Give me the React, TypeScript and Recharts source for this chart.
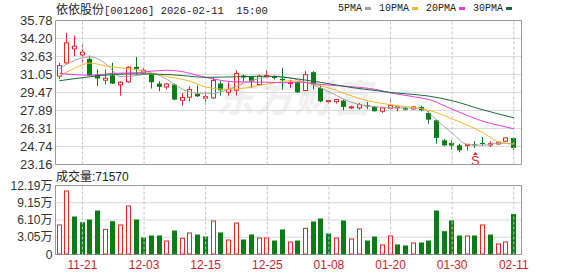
import React from "react";
import {
  ComposedChart,
  Bar,
  Line,
  Scatter,
  XAxis,
  YAxis,
  CartesianGrid,
  ReferenceLine,
  ReferenceArea,
} from "recharts";

// 交易日（共60根K线）
const dates = [
  "11-18", "11-19", "11-20", "11-21", "11-24", "11-25", "11-26", "11-27", "11-28",
  "12-01", "12-02", "12-03", "12-04", "12-05", "12-08", "12-09", "12-10", "12-11", "12-12",
  "12-15", "12-16", "12-17", "12-18", "12-19", "12-22", "12-23", "12-24", "12-25", "12-26",
  "12-29", "12-30", "12-31", "01-05", "01-06", "01-07", "01-08", "01-09",
  "01-12", "01-13", "01-14", "01-15", "01-16", "01-19", "01-20", "01-21", "01-22", "01-23",
  "01-26", "01-27", "01-28", "01-29", "01-30", "02-02", "02-03", "02-04", "02-05", "02-06",
  "02-09", "02-10", "02-11",
];
const tickDates = ["11-21", "12-03", "12-15", "12-25", "01-08", "01-20", "01-30", "02-11"];

const openP = [
  30.9, 32.07, 33.29, 32.77, 32.42, 31.04, 30.55, 30.98, 30.14, 30.4, 31.72, 31.19, 31.04, 30.25, 29.96,
  30.17, 28.79, 29.06, 29.35, 28.97, 29.0, 30.25, 29.49, 29.67, 30.96, 30.84, 30.17, 30.84, 30.9, 30.66,
  30.25, 30.37, 29.64, 31.25, 29.87, 28.68, 28.67, 28.76, 28.12, 28.12, 28.35, 28.21, 27.83, 28.09, 28.12,
  28.12, 28.03, 28.21, 27.68, 27.04, 25.28, 25.05, 24.84, 24.82, 24.93, 25.05, 24.87, 24.96, 25.2, 25.49,
];
const highP = [
  32.07, 34.7, 34.46, 33.67, 32.71, 31.48, 31.48, 32.07, 30.46, 31.77, 32.59, 31.63, 31.19, 30.46, 30.31,
  30.25, 29.43, 30.02, 30.08, 29.58, 30.75, 30.46, 30.37, 31.42, 31.04, 30.9, 31.04, 31.42, 30.96, 31.63,
  30.6, 30.46, 31.34, 31.34, 30.08, 28.78, 28.91, 28.85, 28.32, 28.56, 28.62, 28.32, 28.18, 28.85, 28.21,
  28.21, 28.27, 28.32, 27.83, 27.09, 25.4, 25.28, 24.99, 24.93, 25.2, 25.58, 25.2, 25.17, 25.52, 25.55,
];
const lowP = [
  30.66, 31.92, 32.65, 31.92, 30.9, 30.02, 30.17, 30.22, 29.2, 30.31, 31.04, 31.04, 29.82, 29.58, 29.73,
  28.79, 28.32, 28.7, 29.08, 28.41, 28.91, 29.2, 29.2, 29.2, 30.46, 29.87, 30.08, 30.75, 30.6, 29.73,
  29.87, 29.43, 29.58, 29.73, 28.62, 28.5, 28.5, 27.91, 28.03, 27.97, 28.03, 27.8, 27.68, 27.97, 27.83,
  27.91, 27.97, 27.83, 26.74, 24.99, 24.76, 24.46, 24.23, 24.38, 24.61, 24.82, 24.7, 24.9, 25.11, 24.41,
];
const closeP = [
  31.83, 33.82, 33.53, 33.0, 30.96, 30.69, 30.72, 30.25, 30.37, 31.69, 31.54, 31.42, 30.37, 29.96, 30.22,
  28.85, 29.03, 29.73, 29.14, 29.1, 30.52, 29.67, 29.73, 31.13, 30.78, 30.43, 30.9, 30.96, 30.75, 30.55,
  30.37, 29.49, 31.04, 30.17, 28.7, 28.76, 28.85, 28.21, 28.21, 28.41, 28.24, 27.83, 28.12, 28.32, 28.21,
  27.97, 28.21, 27.91, 27.09, 25.49, 24.84, 24.82, 24.41, 24.93, 24.84, 24.96, 24.99, 25.11, 25.49, 24.61,
];

// 成交量（万手），1 = 红（涨） 0 = 绿（跌）
const volume = [
  5.3, 11.31, 6.71, 5.71, 6.18, 7.77, 4.53, 5.89, 5.3, 8.66, 6.18, 3.0, 3.36, 3.36, 2.47,
  4.24, 2.94, 3.89, 3.53, 3.18, 6.01, 3.89, 2.65, 5.65, 2.65, 3.53, 3.0, 3.0, 2.47, 4.42,
  2.3, 2.47, 4.71, 5.83, 6.36, 3.71, 3.0, 6.01, 2.83, 4.59, 2.47, 3.18, 1.77, 3.36, 1.77,
  1.59, 2.12, 2.12, 2.47, 7.77, 4.12, 6.01, 3.36, 3.36, 3.36, 5.3, 3.53, 1.94, 2.3, 7.157,
];
const volUp = [
  1, 1, 0, 0, 0, 0, 1, 0, 1, 1, 0, 0, 0, 0, 1, 0, 1, 1, 0, 0, 1, 0, 1, 1, 0, 0, 1, 1, 0, 0,
  1, 0, 1, 0, 0, 0, 1, 0, 1, 1, 0, 0, 1, 1, 0, 0, 1, 0, 0, 0, 0, 0, 0, 1, 0, 1, 0, 1, 1, 0,
];

// 均线（从图上读取的点：[序号, 价格]）
const ma5Pts = [
  [0, 31.55], [2, 32.3], [4, 32.6], [6, 32.0], [8, 30.85], [10, 30.95], [12, 31.15], [14, 30.6],
  [16, 29.75], [18, 29.4], [20, 29.4], [22, 29.75], [24, 30.3], [26, 30.7], [28, 30.9], [30, 30.75],
  [32, 30.35], [34, 29.85], [36, 29.2], [38, 28.6], [40, 28.3], [43, 28.15], [47, 28.08], [49, 27.05],
  [51, 25.9], [53, 24.91], [55, 24.85], [57, 25.05], [59, 24.95],
];
const ma10Pts = [
  [0, 30.9], [2, 31.6], [4, 32.05], [6, 31.8], [9, 31.55], [11, 31.35], [13, 31.0], [15, 30.75],
  [17, 30.45], [19, 29.95], [22, 29.75], [24, 29.85], [26, 30.1], [28, 30.32], [30, 30.5], [32, 30.35],
  [34, 30.05], [36, 29.65], [38, 29.15], [40, 28.75], [42, 28.5], [44, 28.3], [47, 28.05], [49, 27.7],
  [51, 27.15], [53, 26.6], [55, 25.95], [57, 25.15], [59, 24.95],
];
const ma20Pts = [
  [0, 31.15], [4, 30.98], [7, 31.15], [10, 31.2], [12, 31.34], [14, 31.42], [16, 31.3], [18, 30.96],
  [20, 30.65], [23, 30.4], [27, 30.37], [29, 30.32], [31, 30.38], [34, 30.17], [38, 29.97], [41, 29.75],
  [43, 29.44], [46, 29.1], [48, 28.85], [51, 28.0], [53, 27.45], [55, 26.95], [57, 26.6], [59, 26.29],
];
const ma30Pts = [
  [0, 30.5], [4, 30.85], [7, 31.05], [10, 31.1], [14, 31.05], [16, 30.95], [19, 30.8], [23, 30.85],
  [27, 30.9], [31, 30.65], [34, 30.35], [38, 29.9], [41, 29.65], [43, 29.47], [46, 29.3], [48, 29.15],
  [51, 28.75], [55, 27.95], [59, 27.25],
];

const priceTicks = [23.16, 24.74, 26.31, 27.89, 29.47, 31.05, 32.63, 34.2, 35.78];
const volTicks = [0, 3.05, 6.1, 9.15, 12.19];
const signalPts = [[54, 23.55]];

const RED = "#e0262b";
const GREEN = "#0c7d16";

const maSeries = [
  { key: "ma5", name: "5PMA", color: "#a3a3a3", pts: ma5Pts },
  { key: "ma10", name: "10PMA", color: "#f2b62a", pts: ma10Pts },
  { key: "ma20", name: "20PMA", color: "#e83ce0", pts: ma20Pts },
  { key: "ma30", name: "30PMA", color: "#1b6a3a", pts: ma30Pts },
];

const lookup = (pts: number[][], i: number) => {
  const p = pts.find((q) => q[0] === i);
  return p ? p[1] : null;
};

const rows = dates.map((d, i) => {
  const r: any = {
    i,
    date: d,
    open: openP[i],
    high: highP[i],
    low: lowP[i],
    close: closeP[i],
    range: [lowP[i], highP[i]],
    vol: volume[i],
    up: volUp[i] === 1,
  };
  maSeries.forEach((s) => (r[s.key] = lookup(s.pts, i)));
  return r;
});
const signalRows = signalPts.map(([i, p]) => ({ i, price: p }));
const tickIdx = tickDates.map((d) => dates.indexOf(d));

const axisFont = "'Liberation Sans', Arial, 'Noto Sans CJK SC', sans-serif";

function Candle(props: any) {
  const { x, y, width, height, payload } = props;
  const { open, close, high, low } = payload;
  const c = Math.floor(x + width / 2) + 0.5;
  const pix = (v: number) => y + ((high - v) / (high - low)) * height;
  const up = close >= open;
  const top = pix(Math.max(open, close));
  const bot = pix(Math.min(open, close));
  if (up) {
    const h = Math.max(bot - top, 1);
    return (
      <g>
        <line x1={c} x2={c} y1={y} y2={top} stroke={RED} />
        <line x1={c} x2={c} y1={top + h} y2={y + height} stroke={RED} />
        <rect x={c - 2} y={top} width={4} height={h} fill="#fff" stroke={RED} />
      </g>
    );
  }
  return (
    <g>
      <line x1={c} x2={c} y1={y} y2={y + height} stroke={GREEN} />
      <rect x={c - 2.5} y={top} width={5} height={Math.max(bot - top, 1)} fill={GREEN} />
    </g>
  );
}

function VolBar(props: any) {
  const { x, y, width, height, payload } = props;
  const c = Math.floor(x + width / 2) + 0.5;
  if (payload.up) {
    return <rect x={c - 2} y={y + 0.5} width={4} height={Math.max(height - 1, 0)} fill="#fff" stroke={RED} />;
  }
  return <rect x={c - 2.5} y={y} width={5} height={height} fill={GREEN} />;
}

function SignalMark(props: any) {
  const { cx, cy } = props;
  return (
    <g>
      <path d={`M${cx - 2.5},${cy - 5} L${cx},${cy - 8} L${cx + 2.5},${cy - 5} Z`} fill={RED} />
      <text x={cx} y={cy + 5} textAnchor="middle" fontSize={13} fill={RED} fontFamily={axisFont}>
        S
      </text>
    </g>
  );
}

export default function App() {
  return (
    <div
      style={{
        position: "absolute",
        left: 0,
        top: 0,
        width: 578,
        height: 276,
        background: "#fff",
        overflow: "hidden",
      }}
    >
      {/* 水印 */}
      <div
        style={{
          position: "absolute",
          left: 216,
          top: 68,
          fontSize: 38,
          fontWeight: 700,
          fontStyle: "italic",
          color: "#f0f0f0",
          fontFamily: "'Noto Sans CJK SC', sans-serif",
          letterSpacing: 1,
        }}
      >
        东方财富
      </div>

      {/* 标题 */}
      <div style={{ position: "absolute", left: 56, top: 0, height: 17, lineHeight: "17px", color: "#222", whiteSpace: "pre" }}>
        <span style={{ fontSize: 12, fontFamily: "'Noto Sans CJK SC', sans-serif" }}>依依股份</span>
        <span style={{ fontSize: 10.5, fontFamily: "'Liberation Mono', monospace" }}>[001206] 2026-02-11  15:00</span>
      </div>

      {/* 均线图例 */}
      <div
        style={{
          position: "absolute",
          left: 338,
          top: 0,
          height: 17,
          display: "flex",
          alignItems: "center",
          fontSize: 10,
          fontFamily: "'Liberation Mono', monospace",
          color: "#222",
        }}
      >
        {maSeries.map((s) => (
          <span key={s.key} style={{ display: "flex", alignItems: "center" }}>
            <span>{s.name}</span>
            <span style={{ width: 6, height: 3, background: s.color, margin: "0 8px 0 3px" }} />
          </span>
        ))}
      </div>

      {/* K线 */}
      <div style={{ position: "absolute", left: 0, top: 0 }}>
        <ComposedChart width={578} height={180} data={rows} margin={{ top: 20.5, right: 56.5, bottom: 15.5, left: 0 }}>
          <CartesianGrid vertical={false} stroke="#dadada" />
          <XAxis type="number" dataKey="i" domain={[-0.5, 60]} ticks={tickIdx} hide />
          <YAxis
            type="number"
            domain={[23.16, 35.78]}
            ticks={priceTicks}
            interval={0}
            allowDataOverflow
            width={55.5}
            tickLine={false}
            axisLine={false}
            tickSize={0}
            tickMargin={3}
            tick={{ fill: "#333", fontSize: 13, fontFamily: axisFont }}
            tickFormatter={(v: number) => v.toFixed(2)}
          />
          {tickIdx.map((t) => (
            <ReferenceLine key={t} x={t} stroke="#c4c4c4" strokeDasharray="3 2" />
          ))}
          <ReferenceArea x1={-0.5} x2={60} y1={23.16} y2={35.78} fill="none" fillOpacity={0} stroke="#9a9a9a" />
          <Bar dataKey="range" barSize={5} shape={Candle} isAnimationActive={false} />
          {maSeries.map((s) => (
            <Line
              key={s.key}
              type="monotone"
              dataKey={s.key}
              stroke={s.color}
              strokeWidth={1}
              dot={false}
              connectNulls
              isAnimationActive={false}
            />
          ))}
          <Scatter data={signalRows} dataKey="price" shape={SignalMark} isAnimationActive={false} />
        </ComposedChart>
      </div>

      {/* 成交量标题 */}
      <div
        style={{
          position: "absolute",
          left: 56,
          top: 169,
          fontSize: 12,
          lineHeight: "16px",
          fontFamily: axisFont,
          color: "#222",
        }}
      >
        成交量:71570
      </div>

      {/* 成交量 */}
      <div style={{ position: "absolute", left: 0, top: 170 }}>
        <ComposedChart width={578} height={106} data={rows} margin={{ top: 15.5, right: 56.5, bottom: 0.5, left: 0 }}>
          <CartesianGrid vertical={false} stroke="#dadada" />
          <XAxis
            type="number"
            dataKey="i"
            domain={[-0.5, 60]}
            ticks={tickIdx}
            interval={0}
            height={21}
            tickLine={false}
            axisLine={false}
            tickSize={0}
            tickMargin={6}
            tick={{ fill: "#cc1f1f", fontSize: 12, fontFamily: axisFont }}
            tickFormatter={(i: number) => dates[i]}
          />
          <YAxis
            type="number"
            domain={[0, 12.19]}
            ticks={volTicks}
            interval={0}
            allowDataOverflow
            width={55.5}
            tickLine={false}
            axisLine={false}
            tickSize={0}
            tickMargin={3}
            tick={{ fill: "#333", fontSize: 12, fontFamily: axisFont }}
            tickFormatter={(v: number) => (v === 0 ? "0" : `${v.toFixed(2)}万`)}
          />
          {tickIdx.map((t) => (
            <ReferenceLine key={t} x={t} stroke="#c4c4c4" strokeDasharray="3 2" />
          ))}
          <ReferenceArea x1={-0.5} x2={60} y1={0} y2={12.19} fill="none" fillOpacity={0} stroke="#9a9a9a" />
          <Bar dataKey="vol" barSize={5} shape={VolBar} isAnimationActive={false} />
        </ComposedChart>
      </div>
    </div>
  );
}
